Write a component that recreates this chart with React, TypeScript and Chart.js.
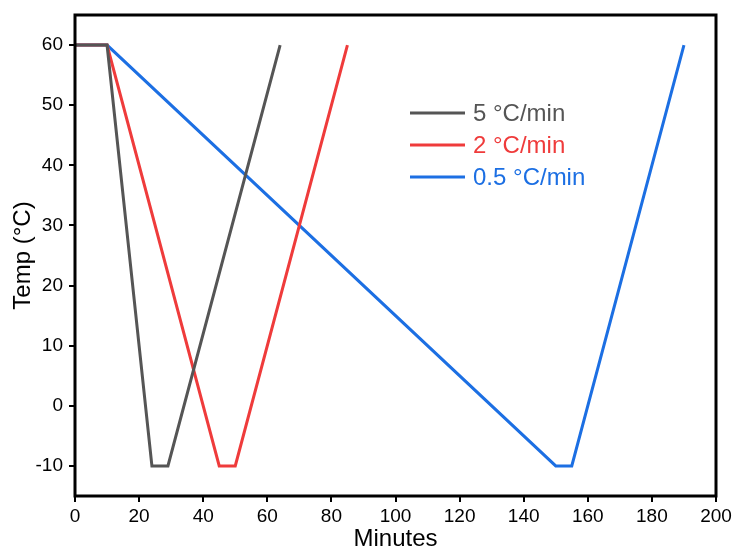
import React, { useEffect, useRef } from "react";
import { Chart, registerables } from "chart.js";

Chart.register(...registerables);

const seriesNames = ["5 °C/min", "2 °C/min", "0.5 °C/min"];
const seriesColors = ["#555555", "#ef3b3b", "#1c6fe3"];
const minutes5 = [0, 10, 24, 29, 64];
const temps5 = [60, 60, -10, -10, 60];
const minutes2 = [0, 10, 45, 50, 85];
const temps2 = [60, 60, -10, -10, 60];
const minutes05 = [0, 10, 150, 155, 190];
const temps05 = [60, 60, -10, -10, 60];
const xTicks = [0, 20, 40, 60, 80, 100, 120, 140, 160, 180, 200];
const yTicks = [-10, 0, 10, 20, 30, 40, 50, 60];

const FONT = "'Liberation Sans', Arial, sans-serif";

export default function App() {
  const ref = useRef<HTMLCanvasElement | null>(null);
  useEffect(() => {
    document.body.style.margin = "0";
    const xs = [minutes5, minutes2, minutes05];
    const ys = [temps5, temps2, temps05];
    const datasets = seriesNames.map((name, i) => ({
      label: name,
      data: xs[i].map((x, j) => ({ x, y: ys[i][j] })),
      borderColor: seriesColors[i],
      backgroundColor: seriesColors[i],
      borderWidth: 3,
      pointRadius: 0,
      tension: 0,
      fill: false,
    }));
    const frame = {
      id: "frame",
      afterDatasetsDraw(chart: any) {
        const { ctx, chartArea: a } = chart;
        ctx.save();
        ctx.strokeStyle = "#000";
        ctx.lineWidth = 3;
        ctx.strokeRect(a.left, a.top, a.right - a.left, a.bottom - a.top);
        // legend
        ctx.font = `24px ${FONT}`;
        ctx.textBaseline = "middle";
        const rows = [113, 145, 177];
        seriesNames.forEach((n, i) => {
          ctx.strokeStyle = seriesColors[i];
          ctx.lineWidth = 3;
          ctx.beginPath();
          ctx.moveTo(410, rows[i]);
          ctx.lineTo(465, rows[i]);
          ctx.stroke();
          ctx.fillStyle = seriesColors[i];
          ctx.fillText(n, 473, rows[i] + 1);
        });
        ctx.restore();
      },
    };
    const chart = new Chart(ref.current!, {
      type: "line",
      data: { datasets },
      plugins: [frame],
      options: {
        animation: false,
        responsive: false,
        layout: { padding: { top: 15, right: 18, left: 0, bottom: 0 } },
        plugins: { legend: { display: false }, tooltip: { enabled: false } },
        scales: {
          x: {
            type: "linear",
            min: 0,
            max: 200,
            afterBuildTicks: (s: any) => {
              s.ticks = xTicks.map((v) => ({ value: v }));
            },
            afterFit: (s: any) => {
              s.height = 55;
              s.paddingLeft = 0;
              s.paddingRight = 0;
            },
            border: { display: false },
            grid: { drawOnChartArea: false, drawTicks: true, tickLength: 6, color: "#000", lineWidth: 2 },
            ticks: { color: "#000", font: { family: FONT, size: 19 }, padding: 3, maxRotation: 0 },
            title: { display: true, text: "Minutes", color: "#000", font: { family: FONT, size: 24 }, padding: { top: 0, bottom: -3 } },
          },
          y: {
            type: "linear",
            min: -15,
            max: 65,
            afterBuildTicks: (s: any) => {
              s.ticks = yTicks.map((v) => ({ value: v }));
            },
            afterFit: (s: any) => {
              s.width = 75;
              s.paddingTop = 0;
              s.paddingBottom = 0;
            },
            border: { display: false },
            grid: { drawOnChartArea: false, drawTicks: true, tickLength: 6, color: "#000", lineWidth: 2 },
            ticks: { color: "#000", font: { family: FONT, size: 19 }, padding: 6 },
            title: { display: true, text: "Temp (°C)", color: "#000", font: { family: FONT, size: 24 }, padding: { top: 9, bottom: 0 } },
          },
        },
      },
    });
    return () => chart.destroy();
  }, []);
  return (
    <div style={{ width: 734, height: 551 }}>
      <canvas ref={ref} width={734} height={551} style={{ display: "block" }} />
    </div>
  );
}
